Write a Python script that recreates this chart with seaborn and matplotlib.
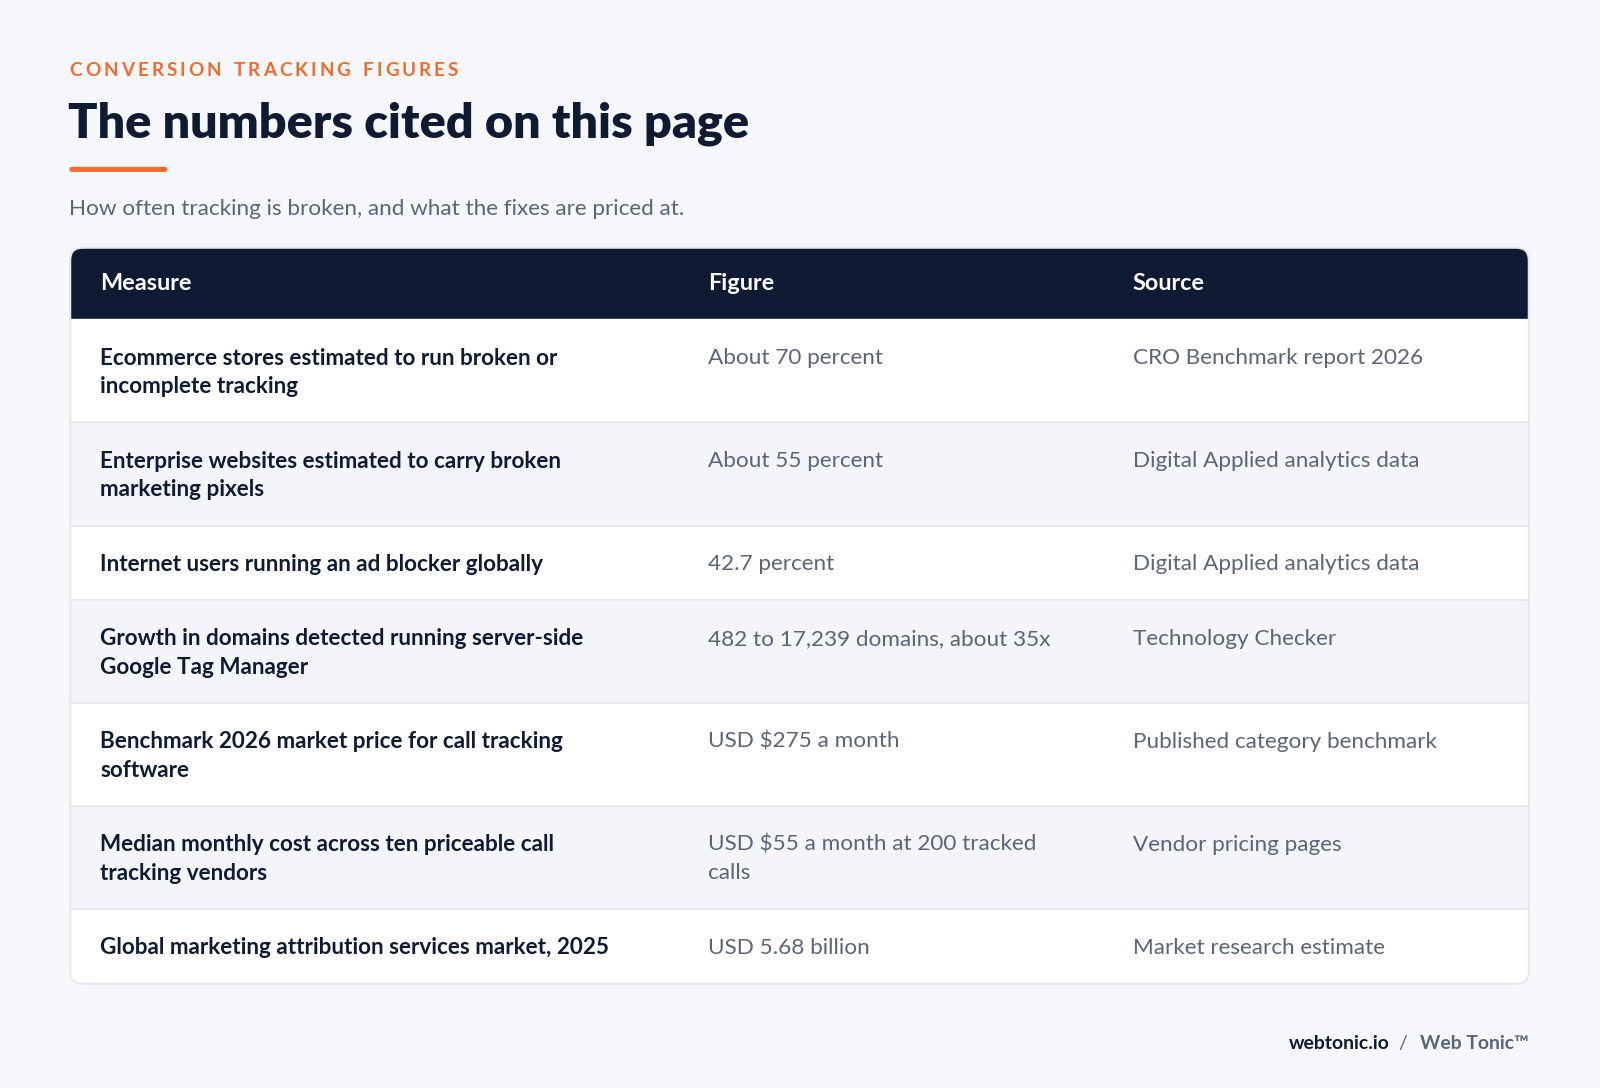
import matplotlib.pyplot as plt
import seaborn as sns
from matplotlib.patches import FancyBboxPatch, Rectangle

# ---- data ----
kicker = "CONVERSION TRACKING FIGURES"
title = "The numbers cited on this page"
subtitle = "How often tracking is broken, and what the fixes are priced at."
headers = ["Measure", "Figure", "Source"]
measures = [
    "Ecommerce stores estimated to run broken or\nincomplete tracking",
    "Enterprise websites estimated to carry broken\nmarketing pixels",
    "Internet users running an ad blocker globally",
    "Growth in domains detected running server-side\nGoogle Tag Manager",
    "Benchmark 2026 market price for call tracking\nsoftware",
    "Median monthly cost across ten priceable call\ntracking vendors",
    "Global marketing attribution services market, 2025",
]
figures = [
    "About 70 percent",
    "About 55 percent",
    "42.7 percent",
    "482 to 17,239 domains, about 35x",
    "USD $275 a month",
    "USD $55 a month at 200 tracked\ncalls",
    "USD 5.68 billion",
]
sources = [
    "CRO Benchmark report 2026",
    "Digital Applied analytics data",
    "Digital Applied analytics data",
    "Technology Checker",
    "Published category benchmark",
    "Vendor pricing pages",
    "Market research estimate",
]
footer_site = "webtonic.io"
footer_brand = "Web Tonic\u2122"

# ---- style ----
BG = "#f5f7fa"
NAVY = "#0e1b33"
ORANGE = "#f26b2a"
GRAY = "#5b6577"
ALT = "#f3f5f8"
LINE = "#e3e7ed"

sns.set_theme(style="white")
plt.rcParams["font.family"] = ["Lato", "DejaVu Sans"]

S = 0.98  # layout units are 0.98 of a pixel
W, H = 1600 * S, 1088 * S
fig = plt.figure(figsize=(16, 10.88), dpi=100, facecolor=BG)
ax = fig.add_axes([0, 0, 1, 1])
ax.set_xlim(0, W)
ax.set_ylim(H, 0)
ax.axis("off")
ax.set_facecolor(BG)

PT = 0.72 / S  # layout unit -> pt

# kicker with letter spacing
fig.canvas.draw()
renderer = fig.canvas.get_renderer()
x = 68
for ch in kicker:
    t = ax.text(x, 69, ch, color=ORANGE, fontsize=18.5 * PT, fontweight="bold",
                va="center", ha="left")
    bb = t.get_window_extent(renderer=renderer)
    w = bb.width * S if ch != " " else 6
    x += w + 3.0

ax.text(67, 121, title, color=NAVY, fontsize=47.5 * PT, fontweight="heavy",
        va="center", ha="left")
ax.add_patch(FancyBboxPatch((68, 163.5), 96, 5, boxstyle="round,pad=0,rounding_size=2.5",
                            color=ORANGE, lw=0))
ax.text(68, 205, subtitle, color=GRAY, fontsize=22 * PT, va="center", ha="left")

# table geometry
x0, x1 = 69, 1498
col_x = [98, 694, 1110]
top = 243
head_h = 70
rows = list(zip(measures, figures, sources))
heights = [45 + 28 * max(c.count("\n") + 1 for c in r) for r in rows]
bottom = top + head_h + sum(heights)

frame = FancyBboxPatch((x0, top), x1 - x0, bottom - top,
                       boxstyle="round,pad=0,rounding_size=12",
                       facecolor="white", edgecolor=LINE, lw=1.2, zorder=1)
ax.add_patch(frame)

hdr = Rectangle((x0, top), x1 - x0, head_h, color=NAVY, zorder=2)
ax.add_patch(hdr)
hdr.set_clip_path(frame)
for cx, h in zip(col_x, headers):
    ax.text(cx, top + head_h / 2, h, color="white", fontsize=23 * PT,
            fontweight="bold", va="center", ha="left", zorder=5)

y = top + head_h
for i, (r, rh) in enumerate(zip(rows, heights)):
    bg = Rectangle((x0, y), x1 - x0, rh, color="white" if i % 2 == 0 else ALT, zorder=2)
    ax.add_patch(bg)
    bg.set_clip_path(frame)
    if i > 0:
        ax.plot([x0, x1], [y, y], color=LINE, lw=1.2, zorder=3)
    for j, (cx, cell) in enumerate(zip(col_x, r)):
        for k, line in enumerate(cell.split("\n")):
            ax.text(cx, y + 38 + 28 * k, line,
                    color=NAVY if j == 0 else GRAY,
                    fontsize=22 * PT, fontweight="bold" if j == 0 else "normal",
                    va="center", ha="left", zorder=5)
    y += rh

# frame outline on top
ax.add_patch(FancyBboxPatch((x0, top), x1 - x0, bottom - top,
                            boxstyle="round,pad=0,rounding_size=12",
                            facecolor="none", edgecolor=LINE, lw=1.2, zorder=6))

# footer
t = ax.text(1498, 1023, footer_brand, color=GRAY, fontsize=19 * PT,
            fontweight="bold", va="center", ha="right")
bb = t.get_window_extent(renderer=renderer)
bw = bb.width * S
ax.text(1498 - bw - 12, 1023, "/", color=GRAY, fontsize=19 * PT,
        va="center", ha="right")
ax.text(1498 - bw - 30, 1023, footer_site, color=NAVY, fontsize=19 * PT,
        fontweight="bold", va="center", ha="right")

fig.savefig("out.png", dpi=100, facecolor=BG)
